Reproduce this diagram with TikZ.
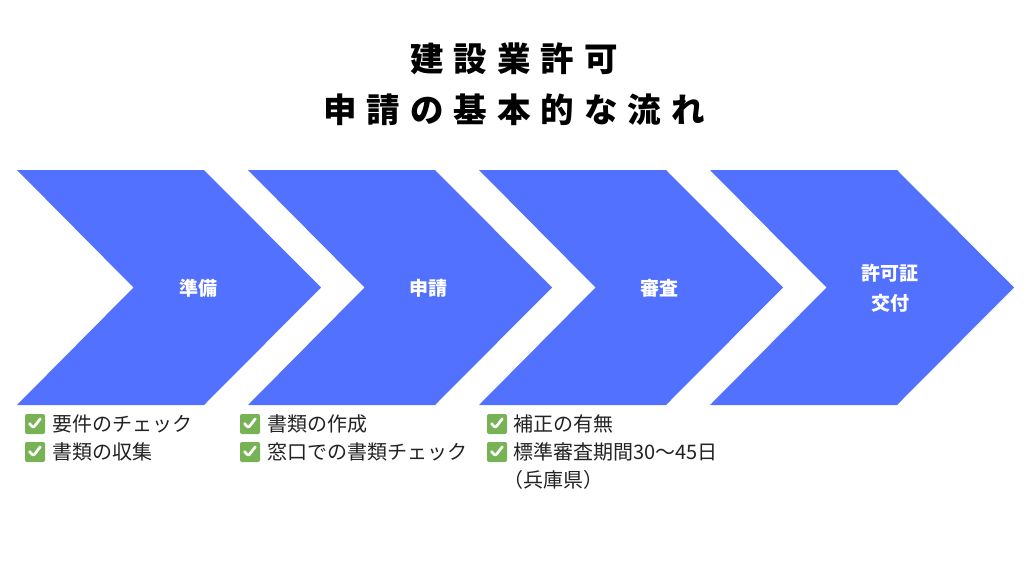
\documentclass[tikz,border=0pt]{standalone}
\usepackage{fontspec}
\setmainfont{Noto Sans CJK JP}
\newfontfamily\titlefont{Noto Sans CJK JP}[LetterSpace=30]
\usetikzlibrary{positioning}
\definecolor{stepblue}{HTML}{5271FF}
\definecolor{chkgreen}{HTML}{77B255}
\definecolor{itemgray}{HTML}{222222}

\begin{document}
\begin{tikzpicture}[x=1pt, y=-1pt]
    \tikzset{chevron/.style = {fill=stepblue}}
    \tikzset{steplabel/.style = {text=white, font=\bfseries\fontsize{19}{30}\selectfont, align=center}}
    \tikzset{chk/.style = {rectangle, rounded corners=2pt, fill=chkgreen, minimum size=20pt, inner sep=0,
        path picture={\draw[white, line width=2.7pt, line cap=round, line join=round]
        ([shift={(-5.5pt,0.5pt)}]path picture bounding box.center) -- ++(3.8pt,-4.3pt) -- ++(7pt,9pt);}}}
    \tikzset{item/.style = {anchor=west, inner sep=0, text=itemgray, font=\fontsize{20}{23}\selectfont}}

    \useasboundingbox (0,0) rectangle (1024,576);

    % title
    \node[font=\titlefont\bfseries\fontsize{33.5}{51}\selectfont, align=center] (title) at (514,84) {建設業許可\\申請の基本的な流れ};

    % chevrons
    \foreach \x in {17,248,479,710}
        \fill[chevron] (\x,170) -- ++(187,0) -- ++(117,117.5) -- ++(-117,117.5) -- ++(-187,0) -- ++(116.5,-117.5) -- cycle;

    % steps
    \node[steplabel] (prep)   at (198,288) {準備};
    \node[steplabel] (apply)  at (428,288) {申請};
    \node[steplabel] (review) at (659,288) {審査};
    \node[steplabel] (issue)  at (890,288) {許可証\\交付};

    % checklist
    \node[chk] (cb11) at (35,424) {};
    \node[chk] (cb12) at (35,452) {};
    \node[item] (it11) at (52,424) {要件のチェック};
    \node[item] (it12) at (52,452) {書類の収集};

    \node[chk] (cb21) at (250,424) {};
    \node[chk] (cb22) at (250,452) {};
    \node[item] (it21) at (267,424) {書類の作成};
    \node[item] (it22) at (267,452) {窓口での書類チェック};

    \node[chk] (cb31) at (497,424) {};
    \node[chk] (cb32) at (497,452) {};
    \node[item] (it31) at (513,424) {補正の有無};
    \node[item] (it32) at (513,452) {標準審査期間30〜45日};
    \node[item] (it33) at (503,480) {（兵庫県）};
\end{tikzpicture}
\end{document}
